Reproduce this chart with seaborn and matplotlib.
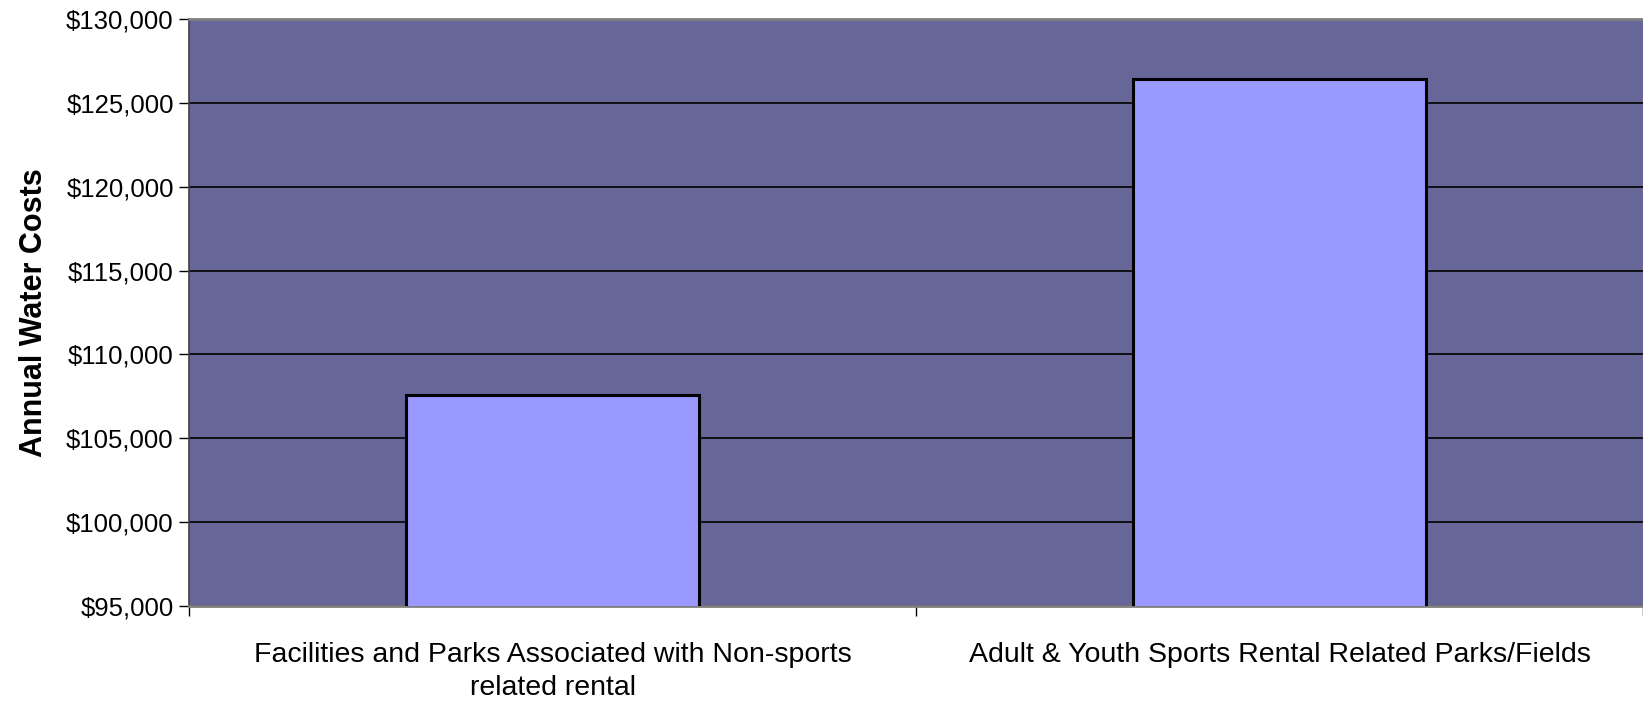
import matplotlib
matplotlib.use("Agg")
import matplotlib.pyplot as plt
import seaborn as sns
import pandas as pd
from matplotlib.ticker import FuncFormatter, MultipleLocator

categories = ["Facilities and Parks Associated with Non-sports\nrelated rental",
              "Adult & Youth Sports Rental Related Parks/Fields"]
costs = [107600, 126420]

df = pd.DataFrame({"cat": categories, "cost": costs})

sns.set_theme(style="white")
plt.rcParams['font.family'] = ['Liberation Sans', 'DejaVu Sans']

fig = plt.figure(figsize=(16.43, 7.04), dpi=100)
ax = fig.add_axes([189/1643, 1 - 606/704, (1643 - 189)/1643, (606 - 19)/704])
ax.set_facecolor("#666699")

sns.barplot(data=df, x="cat", y="cost", ax=ax, color="#9999FF", width=0.404,
            edgecolor="black", linewidth=2.2, saturation=1, zorder=3)

ax.set_ylim(95000, 130000)
ax.set_xlim(-0.5, 1.5)
ax.yaxis.set_major_locator(MultipleLocator(5000))
ax.yaxis.set_major_formatter(FuncFormatter(lambda v, p: f"${v:,.0f}"))
ax.grid(axis="y", color="black", linewidth=1.2, zorder=1)
ax.set_axisbelow(True)

ax.set_xticks([-0.5, 0.5, 1.5], minor=False)
ax.set_xticklabels(["", "", ""])
ax.set_xticks([0, 1], minor=True)
ax.set_xticklabels(categories, minor=True)
ax.tick_params(axis="x", which="major", bottom=True, direction="out", length=7, width=1, color="black")
ax.tick_params(axis="x", which="minor", bottom=True, length=0, labelsize=20.5, pad=26, colors="black")
ax.tick_params(axis="y", direction="out", length=7, width=1, color="black",
               labelsize=18.5, pad=4, left=True, labelcolor="black")
for t in ax.get_xticklabels(minor=True):
    t.set_linespacing(1.32)

ax.set_xlabel("")
ax.set_ylabel("Annual Water Costs", fontsize=22, fontweight="bold", color="black")
ax.yaxis.set_label_coords(-(189 - 49) / 1454, 0.5)

for s in ["top", "right", "bottom"]:
    ax.spines[s].set_color("#808080")
    ax.spines[s].set_linewidth(2)
ax.spines["left"].set_color("#404040")
ax.spines["left"].set_linewidth(1.2)
ax.spines["right"].set_visible(False)

fig.savefig("out.png", dpi=100)
